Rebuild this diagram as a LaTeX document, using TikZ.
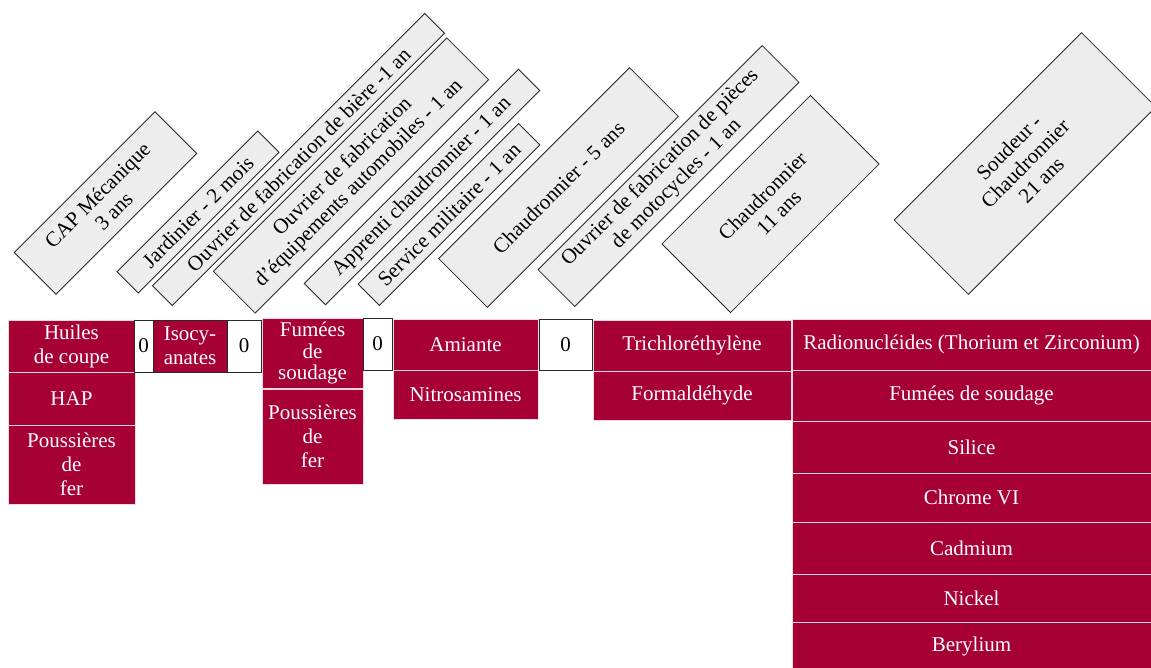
\documentclass[tikz,border=0pt]{standalone}
\usepackage{fontspec}
\setmainfont{Liberation Serif}
\definecolor{cellred}{RGB}{166,0,52}
\definecolor{tagfill}{RGB}{237,237,237}
\definecolor{tagline}{RGB}{40,40,40}
\tikzset{
  cell/.style={fill=cellred, draw=white!85!cellred, line width=1pt, text=white, inner sep=0pt, align=center, font=\fontsize{21}{24}\selectfont},
  zerobox/.style={fill=white, draw=tagline, line width=0.9pt, text=black, inner sep=0pt, align=center, font=\fontsize{21}{24}\selectfont},
  isobox/.style={cell, draw=tagline},
  tag/.style={fill=tagfill, draw=tagline, line width=0.8pt, rotate=45, inner sep=0pt, align=center, font=\fontsize{21}{23}\selectfont},
  sz/.style 2 args={minimum width=#1pt, minimum height=#2pt},
}
\begin{document}
\begin{tikzpicture}[x=1pt,y=-1pt]
\useasboundingbox (0,0) rectangle (1151,668);
% rotated tags
\node[tag, sz={199}{59}] (cap) at (105.5,203) {CAP Mécanique\\3 ans};
\node[tag, sz={199}{30}] (jard) at (198,212) {Jardinier - 2 mois};
\node[tag, sz={385}{28}] (biere) at (298.5,159.5) {Ouvrier de fabrication de bière -1 an};
\node[tag, sz={330}{59}] (auto) at (351,175.5) {Ouvrier de fabrication\\d’équipements automobiles - 1 an};
\node[tag, sz={303}{30}] (appr) at (422,187) {Apprenti chaudronnier - 1 an};
\node[tag, sz={227}{30}] (serv) at (449,214.5) {Service militaire - 1 an};
\node[tag, sz={270}{69}] (chcinq) at (558.5,187.5) {Chaudronnier - 5 ans};
\node[tag, sz={317}{52}] (moto) at (668.5,176) {Ouvrier de fabrication de pièces\\de motocycles - 1 an};
\node[tag, sz={210}{97}] (chonze) at (770.5,204) {Chaudronnier\\11 ans};
\node[tag, sz={265}{105}] (soud) at (1025,163.5) {Soudeur -\\Chaudronnier\\21 ans};
% column 1
\node[cell, sz={127}{52}] (huiles) at (71.5,346) {Huiles\\de coupe};
\node[cell, sz={127}{53}] (hap) at (71.5,398.5) {HAP};
\node[cell, sz={127}{79}] (pousa) at (71.5,464.5) {Poussières\\de\\fer};
\node[zerobox, sz={19}{52}] (za) at (143.5,346) {0};
\node[isobox, sz={74}{52}] (iso) at (190,346) {Isocy-\\anates};
\node[zerobox, sz={34}{52}] (zb) at (244,346) {0};
% column 3
\node[cell, sz={101}{70}, font=\fontsize{21}{21.5}\selectfont] (fumees) at (312.5,353) {Fumées\\de\\soudage};
\node[cell, sz={101}{95}] (pousb) at (312.5,436.5) {Poussières\\de\\fer};
\node[zerobox, sz={29}{52}] (zc) at (377.5,344) {0};
% column 4
\node[cell, sz={145}{51}] (amiante) at (465.5,344.5) {Amiante};
\node[cell, sz={145}{49}] (nitro) at (465.5,394.5) {Nitrosamines};
\node[zerobox, sz={53}{51}] (zd) at (565.5,344.5) {0};
% column 5
\node[cell, sz={198}{51}] (trichlo) at (692,345.5) {Trichloréthylène};
\node[cell, sz={198}{49}] (formal) at (692,395.5) {Formaldéhyde};
% column 6
\node[cell, sz={359}{51}] (radio) at (971.5,344.5) {Radionucléides (Thorium et Zirconium)};
\node[cell, sz={359}{51}] (fumb) at (971.5,395.5) {Fumées de soudage};
\node[cell, sz={359}{52}] (silice) at (971.5,447) {Silice};
\node[cell, sz={359}{49}] (chrome) at (971.5,497.5) {Chrome VI};
\node[cell, sz={359}{52}] (cadmium) at (971.5,548) {Cadmium};
\node[cell, sz={359}{48}] (nickel) at (971.5,598) {Nickel};
\node[cell, sz={359}{48}] (beryl) at (971.5,646) {Berylium};
\end{tikzpicture}
\end{document}
